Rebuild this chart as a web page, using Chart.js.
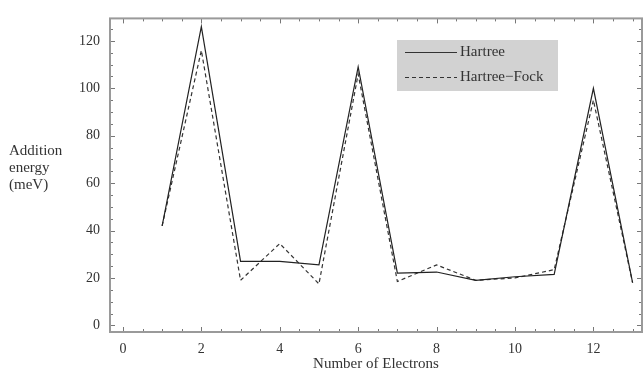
<!DOCTYPE html>
<html>
<head>
<meta charset="utf-8">
<script src="https://cdn.jsdelivr.net/npm/chart.js@4/dist/chart.umd.min.js"></script>
<style>
  html, body { margin: 0; padding: 0; background: #fff; }
  #wrap { width: 643px; height: 374px; }
</style>
</head>
<body>
<div id="wrap"><canvas id="chart"></canvas></div>
<script>
  const electrons = [1, 2, 3, 4, 5, 6, 7, 8, 9, 10, 11, 12, 13];
  const hartree = [42, 126, 27, 27, 25.5, 109, 22, 22.5, 19, 20.5, 21.5, 100, 18];
  const hartreeFock = [42, 116, 19, 34.5, 17.5, 106, 18.5, 25.5, 19, 20, 23.5, 95, 18];
  const xTicks = [0, 2, 4, 6, 8, 10, 12];
  const yTicks = [0, 20, 40, 60, 80, 100, 120];
  const serif = '"Liberation Serif", "DejaVu Serif", serif';

  const toPoints = vals => vals.map((v, i) => ({ x: electrons[i], y: v }));

  // frame, inward ticks, y title and legend box
  const decorations = {
    id: 'decorations',
    afterDatasetsDraw(chart) {
      const { ctx, chartArea: a, scales: { x, y } } = chart;
      ctx.save();
      ctx.strokeStyle = '#777';
      ctx.lineWidth = 1;
      for (let v = 0; v <= 13; v += 0.5) {
        const px = Math.round(x.getPixelForValue(v)) + 0.5;
        const len = v % 2 === 0 ? 5 : 3;
        ctx.beginPath();
        ctx.moveTo(px, a.bottom); ctx.lineTo(px, a.bottom - len);
        ctx.moveTo(px, a.top); ctx.lineTo(px, a.top + len);
        ctx.stroke();
      }
      for (let v = 0; v <= 125; v += 5) {
        const py = Math.round(y.getPixelForValue(v)) + 0.5;
        const len = v % 20 === 0 ? 5 : 3;
        ctx.beginPath();
        ctx.moveTo(a.left, py); ctx.lineTo(a.left + len, py);
        ctx.moveTo(a.right, py); ctx.lineTo(a.right - len, py);
        ctx.stroke();
      }
      ctx.strokeStyle = '#9a9a9a';
      ctx.lineWidth = 2;
      ctx.strokeRect(a.left, a.top, a.right - a.left, a.bottom - a.top);

      ctx.fillStyle = '#333';
      ctx.font = '15px ' + serif;
      ctx.textAlign = 'left';
      ctx.textBaseline = 'middle';
      ['Addition', 'energy', '(meV)'].forEach((t, i) => ctx.fillText(t, 9, 151 + i * 17));

      // legend
      ctx.fillStyle = '#d2d2d2';
      ctx.fillRect(397, 40, 161, 51);
      const items = chart.data.datasets;
      items.forEach((ds, i) => {
        const ly = 52 + i * 25 + 0.5;
        ctx.strokeStyle = '#333';
        ctx.lineWidth = 1.2;
        ctx.setLineDash(ds.borderDash || []);
        ctx.beginPath();
        ctx.moveTo(405, ly); ctx.lineTo(457, ly);
        ctx.stroke();
        ctx.setLineDash([]);
        ctx.fillStyle = '#333';
        ctx.font = '15px ' + serif;
        ctx.fillText(ds.label, 460, ly);
      });
      ctx.restore();
    }
  };

  new Chart(document.getElementById('chart'), {
    type: 'line',
    data: {
      datasets: [
        {
          label: 'Hartree',
          data: toPoints(hartree),
          borderColor: '#222',
          borderWidth: 1.2,
          pointRadius: 0,
          tension: 0
        },
        {
          label: 'Hartree\u2212Fock',
          data: toPoints(hartreeFock),
          borderColor: '#333',
          borderWidth: 1.2,
          borderDash: [4, 3],
          pointRadius: 0,
          tension: 0
        }
      ]
    },
    options: {
      responsive: true,
      maintainAspectRatio: false,
      animation: false,
      layout: { padding: { top: 5, right: 1, left: 0, bottom: 0 } },
      plugins: { legend: { display: false }, tooltip: { enabled: false } },
      scales: {
        x: {
          type: 'linear',
          min: -0.33,
          max: 13.24,
          afterBuildTicks: s => { s.ticks = xTicks.map(v => ({ value: v })); },
          afterFit: s => { s.height = 42; },
          grid: { display: false, drawTicks: false },
          border: { display: false },
          ticks: { color: '#333', font: { family: serif, size: 14 }, padding: 9 },
          title: {
            display: true,
            text: 'Number of Electrons',
            color: '#333',
            font: { family: serif, size: 15 },
            padding: { top: 0, bottom: 1 }
          }
        },
        y: {
          min: -2.8,
          max: 129.5,
          afterBuildTicks: s => { s.ticks = yTicks.map(v => ({ value: v })); },
          afterFit: s => { s.width = 110; },
          grid: { display: false, drawTicks: false },
          border: { display: false },
          ticks: { color: '#333', font: { family: serif, size: 14 }, padding: 10 }
        }
      }
    },
    plugins: [decorations]
  });
</script>
</body>
</html>
